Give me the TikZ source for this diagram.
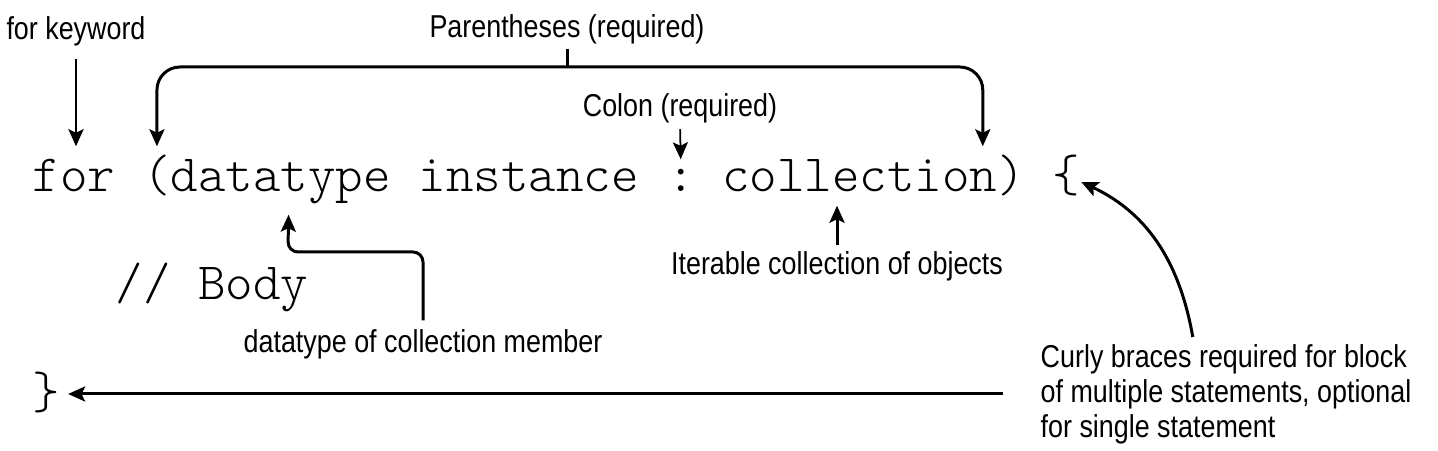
\documentclass[tikz,border=0pt]{standalone}
\usepackage{fontspec}
\setmainfont{Liberation Sans}[FakeStretch=0.85]
\newfontfamily\codefont{Latin Modern Mono Light}
\usetikzlibrary{arrows.meta,positioning,calc}

\tikzset{
	note/.style={inner sep=0pt,font=\fontsize{9pt}{10pt}\selectfont},
	code/.style={inner sep=0pt,anchor=base west,text height=0.3cm,text depth=0.1cm,font=\codefont\fontsize{14.9pt}{18pt}\selectfont},
	arr/.style={-{Stealth[length=1.7mm,width=1.5mm,inset=0.35mm]},line width=0.85pt},
}
\newcommand{\cw}{0.2757}

\begin{document}
\begin{tikzpicture}
\useasboundingbox (0,0) rectangle (14.38,4.51);

% code line, one node per token
\foreach \i/\tok/\n in {0/for/kwfor,4/(/lparen,5/datatype/dtype,14/instance/inst,23/:/colon,25/collection/coll,35/)/rparen,37/\{/lbrace}
	\node[code] (\n) at (0.322+\i*\cw,2.59) {\tok};
\node[code] (body) at (0.322+3*\cw,1.51) {// Body};
\node[code] (rbrace) at (0.322,0.42) {\}};

\node[note,anchor=base] (forkw) at (0.76,4.11) {for keyword};
\node[note,anchor=base] (paren) at (5.67,4.135) {Parentheses (required)};
\node[note,anchor=base] (colonlbl) at (6.80,3.34) {Colon (required)};
\node[note,anchor=base] (iter) at (8.37,1.76) {Iterable collection of objects};
\node[note,anchor=base] (member) at (4.23,0.98) {datatype of collection member};
\node[note,anchor=north west,align=left] (curly) at (10.40,1.07) {Curly braces required for block\\of multiple statements, optional\\for single statement};

\coordinate (brk) at (5.67,3.84);
\coordinate (bend) at (2.88,1.99);
\coordinate (tail) at (10.03,0.57);

\draw[arr,shorten <=0.12cm,shorten >=0.15cm] (forkw.south) -- (forkw.south |- kwfor.north);

% parentheses bracket
\draw[line width=0.85pt,shorten <=0.04cm] (paren.south) -- (brk);
\draw[arr,rounded corners=2.3mm,shorten >=0.15cm] (brk) -| (lparen.north);
\draw[arr,rounded corners=2.3mm,shorten >=0.15cm] (brk) -| ([xshift=-0.15cm]coll.north east);

\draw[arr,line width=0.5pt,shorten <=0.05cm,shorten >=0.02cm] (colonlbl.south) -- (colon.north);
\draw[arr,shorten <=0.06cm,shorten >=0.03cm] (iter.north) -- (iter.north |- coll.south);
\draw[arr,rounded corners=1mm,shorten <=0.09cm,shorten >=0.12cm] (member.north) |- (bend) -- ([xshift=0.08cm]dtype.south);

\draw[arr,shorten >=0.07cm] (tail) -- (tail -| rbrace.east);
\draw[arr,shorten <=0.07cm] ([xshift=-0.32cm]curly.north) to[out=100,in=-25] (lbrace.east);
\end{tikzpicture}
\end{document}
